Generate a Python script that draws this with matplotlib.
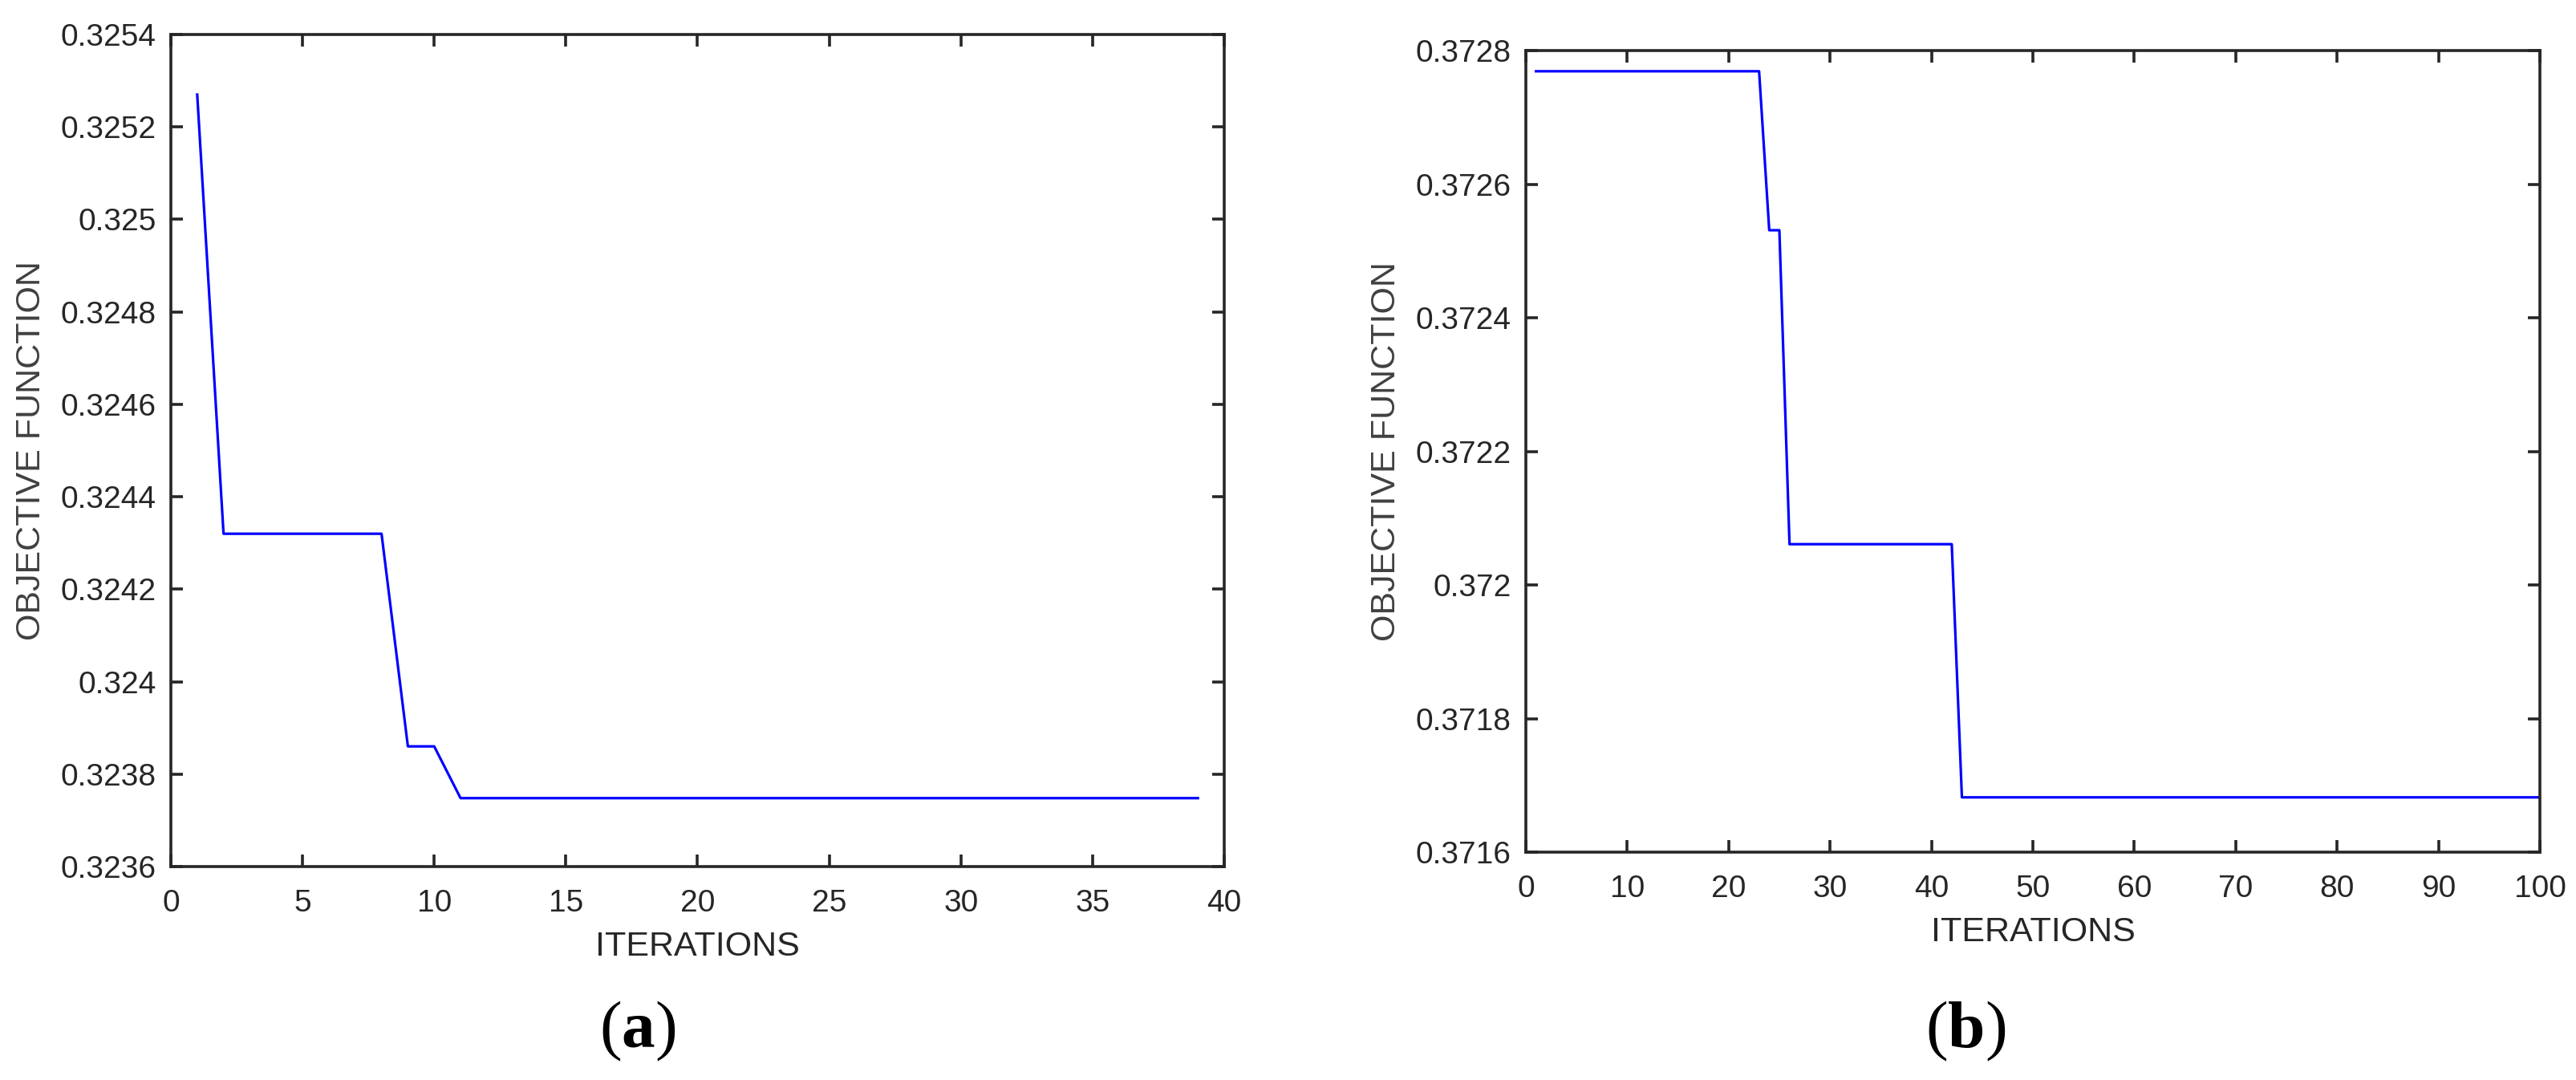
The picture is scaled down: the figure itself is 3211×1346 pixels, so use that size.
import matplotlib
matplotlib.use("Agg")
import matplotlib.pyplot as plt
from matplotlib.ticker import FormatStrFormatter, FixedLocator

# ---- data ----
iter_a = list(range(1, 40))
obj_a = [0.32527] + [0.32432] * 7 + [0.32386, 0.32386] + [0.323748] * 29
iter_b = list(range(1, 101))
obj_b = [0.372769] * 23 + [0.372531, 0.372531] + [0.372061] * 17 + [0.371682] * 58

xticks_a = [0, 5, 10, 15, 20, 25, 30, 35, 40]
yticks_a = [0.3236, 0.3238, 0.3240, 0.3242, 0.3244, 0.3246, 0.3248, 0.3250, 0.3252, 0.3254]
xticks_b = [0, 10, 20, 30, 40, 50, 60, 70, 80, 90, 100]
yticks_b = [0.3716, 0.3718, 0.3720, 0.3722, 0.3724, 0.3726, 0.3728]

xlabel = "ITERATIONS"
ylabel = "OBJECTIVE FUNCTION"
captions = ["a", "b"]

plt.rcParams['font.family'] = ['Liberation Sans', 'DejaVu Sans']
plt.rcParams['mathtext.fontset'] = 'custom'
plt.rcParams['mathtext.rm'] = 'Liberation Serif'
plt.rcParams['mathtext.bf'] = 'Liberation Serif:bold'

W, H = 3212, 1346
DPI = 100
fig = plt.figure(figsize=(W / DPI, H / DPI), dpi=DPI)

axc = '#262626'

def style(ax, xt, yt, xlim, ylim):
    ax.set_xlim(*xlim)
    ax.set_ylim(*ylim)
    ax.xaxis.set_major_locator(FixedLocator(xt))
    ax.yaxis.set_major_locator(FixedLocator(yt))
    ax.yaxis.set_major_formatter(FormatStrFormatter('%g'))
    for s in ax.spines.values():
        s.set_linewidth(2.6)
        s.set_color(axc)
    ax.tick_params(direction='in', length=11, width=2.6, colors=axc,
                   labelsize=28, top=True, right=True)
    ax.tick_params(axis='y', pad=13)
    ax.tick_params(axis='x', pad=20)
    ax.set_xlabel(xlabel, fontsize=31, color=axc, labelpad=12)
    ax.set_ylabel(ylabel, fontsize=31, color='#404040', labelpad=12)

ax1 = fig.add_axes([213 / W, 1 - 1080 / H, 1313 / W, 1037 / H])
ax1.plot(iter_a, obj_a, color=(0, 0, 1), linewidth=2.3)
style(ax1, xticks_a, yticks_a, (0, 40), (0.3236, 0.3254))

ax2 = fig.add_axes([1902 / W, 1 - 1062 / H, 1264 / W, 999 / H])
ax2.plot(iter_b, obj_b, color=(0, 0, 1), linewidth=2.3)
style(ax2, xticks_b, yticks_b, (0, 100), (0.3716, 0.3728))

for cx, lab in zip([795, 2450], captions):
    fig.text(cx / W, 1 - 1285 / H, "(" + r"$\mathbf{" + lab + "}$" + ")",
             fontsize=60, family='Liberation Serif', color='black',
             ha='center', va='center')

fig.savefig("out.png", dpi=DPI, facecolor='white')
